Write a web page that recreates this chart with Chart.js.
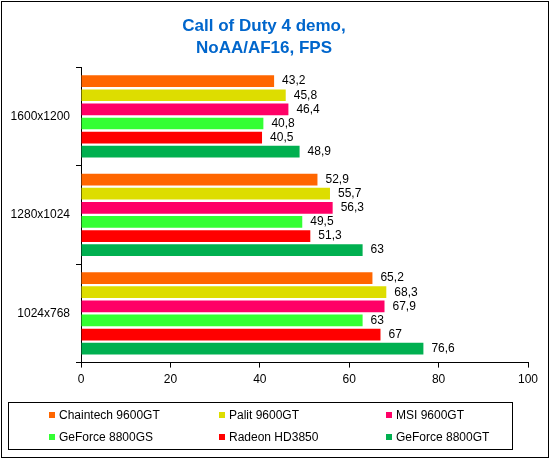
<!DOCTYPE html>
<html>
<head>
<meta charset="utf-8">
<script src="https://cdn.jsdelivr.net/npm/chart.js@4"></script>
<style>
  body { margin: 0; background: #fff; }
  #wrap { position: relative; width: 550px; height: 460px; }
  #frame { position: absolute; left: 1px; top: 1px; width: 546px; height: 455px; border: 1px solid #000; pointer-events: none; }
  #leyenda { position: absolute; left: 8px; top: 402px; width: 503px; height: 46px; border: 1px solid #000;
    font: 12px "Liberation Sans", Arial, sans-serif; color: #000; }
  .item { position: absolute; white-space: nowrap; }
  .item span.m { display: inline-block; width: 6px; height: 6px; margin-right: 4px; vertical-align: 1px; }
</style>
</head>
<body>
<div id="wrap">
  <canvas id="myChart" width="550" height="460"></canvas>
  <div id="leyenda"></div>
  <div id="frame"></div>
</div>
<script>
const resoluciones = ['1600x1200', '1280x1024', '1024x768'];
const tarjetas = ['Chaintech 9600GT', 'Palit 9600GT', 'MSI 9600GT', 'GeForce 8800GS', 'Radeon HD3850', 'GeForce 8800GT'];
const colores = ['#FF6600', '#DDDD00', '#FF0066', '#33FF33', '#FF0000', '#00B050'];
const chaintech = [43.2, 52.9, 65.2];
const palit = [45.8, 55.7, 68.3];
const msi = [46.4, 56.3, 67.9];
const gf8800gs = [40.8, 49.5, 63];
const radeon = [40.5, 51.3, 67];
const gf8800gt = [48.9, 63, 76.6];
const valores = [chaintech, palit, msi, gf8800gs, radeon, gf8800gt];
const ticksX = [0, 20, 40, 60, 80, 100];

const fuente = '"Liberation Sans", Arial, sans-serif';

// etiquetas de valor al final de cada barra, con coma decimal
const etiquetas = {
  id: 'etiquetas',
  afterDatasetsDraw(chart) {
    const ctx = chart.ctx;
    ctx.save();
    ctx.font = '12px ' + fuente;
    ctx.fillStyle = '#000';
    ctx.textBaseline = 'middle';
    chart.data.datasets.forEach((ds, i) => {
      chart.getDatasetMeta(i).data.forEach((bar, j) => {
        const txt = String(ds.data[j]).replace('.', ',');
        ctx.fillText(txt, bar.x + 8, bar.y);
      });
    });
    ctx.restore();
  }
};

new Chart(document.getElementById('myChart'), {
  type: 'bar',
  data: {
    labels: resoluciones,
    datasets: tarjetas.map((t, i) => ({
      label: t,
      data: valores[i],
      backgroundColor: colores[i],
      borderWidth: 0,
      barPercentage: 0.83,
      categoryPercentage: 0.86
    }))
  },
  options: {
    indexAxis: 'y',
    responsive: false,
    animation: false,
    layout: { padding: { top: 0, right: 22, bottom: 68, left: 0 } },
    plugins: {
      legend: { display: false },
      tooltip: { enabled: false },
      title: {
        display: true,
        text: ['Call of Duty 4 demo,', 'NoAA/AF16, FPS'],
        color: '#0066CC',
        font: { family: fuente, size: 17, weight: 'bold', lineHeight: 1.3 },
        padding: { top: 15, bottom: 8 }
      }
    },
    scales: {
      x: {
        min: 0,
        max: 100,
        afterBuildTicks: (s) => { s.ticks = ticksX.map(v => ({ value: v })); },
        border: { color: '#000', width: 1 },
        grid: { drawOnChartArea: false, color: '#000', tickLength: 5 },
        ticks: { color: '#000', font: { family: fuente, size: 12 }, padding: 5, maxRotation: 0 }
      },
      y: {
        afterFit: (s) => { s.width = 81; },
        border: { color: '#000', width: 1 },
        grid: { drawOnChartArea: false, color: '#000', tickLength: 5, offset: true },
        ticks: { color: '#000', font: { family: fuente, size: 12 }, padding: 6 }
      }
    }
  },
  plugins: [etiquetas]
});

// leyenda en html
const leyenda = document.getElementById('leyenda');
const posX = [40, 210, 377];
const posY = [5, 27];
tarjetas.forEach((t, i) => {
  const d = document.createElement('div');
  d.className = 'item';
  d.style.left = posX[i % 3] + 'px';
  d.style.top = posY[Math.floor(i / 3)] + 'px';
  d.innerHTML = '<span class="m" style="background:' + colores[i] + '"></span>' + t;
  leyenda.appendChild(d);
});
</script>
</body>
</html>
